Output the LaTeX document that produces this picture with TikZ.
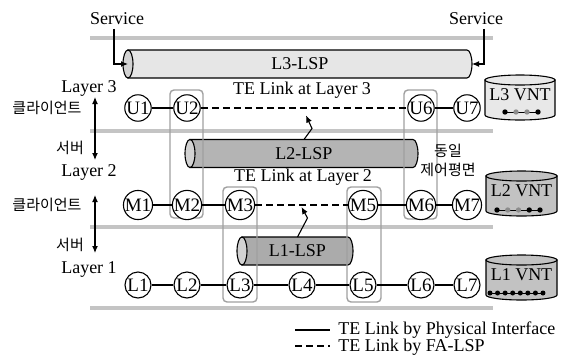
\documentclass[tikz,border=0pt]{standalone}
\usepackage{fontspec}
\setmainfont{Liberation Serif}
\newfontfamily\kofont{Noto Sans CJK KR}
\usetikzlibrary{positioning,arrows.meta}

\definecolor{lspthree}{HTML}{E6E6E6}
\definecolor{lsptwo}{HTML}{B4B4B4}
\definecolor{lspone}{HTML}{ABABAB}
\definecolor{lspend}{HTML}{D2D2D2}
\definecolor{sepgray}{HTML}{C4C4C4}
\definecolor{boxgray}{HTML}{A0A0A0}
\definecolor{dotgray}{HTML}{8C8C8C}
\definecolor{vntlight}{HTML}{E8E8E8}
\definecolor{vntdark}{HTML}{C2C2C2}

% horizontal tube: name, left x, right x, centre y, fill, label
\newcommand{\lsptube}[6]{%
  \filldraw[fill=#5, line width=1.1pt] (#2,{#4-14}) -- ({#3-5},{#4-14})
    arc[start angle=90, end angle=-90, x radius=5pt, y radius=14pt] -- (#2,{#4+14}) -- cycle;
  \filldraw[fill=lspend, line width=1.1pt] (#2,#4) ellipse[x radius=5pt, y radius=14pt];
  \node (#1) at ({(#2+#3)/2},#4) {#6};
  \coordinate (#1w) at (#2,#4);
  \coordinate (#1e) at (#3,#4);
  \coordinate (#1n) at ({(#2+#3)/2},{#4-14});
}
% upright store: name, left x, right x, top y, bottom y, fill, label
\newcommand{\vntcan}[7]{%
  \filldraw[fill=#6, line width=1.1pt] (#2,{#4+5}) -- (#2,{#5-5})
    arc[start angle=180, end angle=360, x radius={(#3-#2)/2*1pt}, y radius=5pt] -- (#3,{#4+5}) -- cycle;
  \filldraw[fill=#6, line width=1.1pt] ({(#2+#3)/2},{#4+5}) ellipse[x radius={(#3-#2)/2*1pt}, y radius=5pt];
  \node (#1) at ({(#2+#3)/2},{#4+20}) {#7};
}

\tikzset{every picture/.style={line width=0.9pt}}

\begin{document}
\begin{tikzpicture}[x=1pt, y=-1pt, font=\fontsize{18}{21}\selectfont,
    nd/.style={circle, draw, fill=white, inner sep=0pt, minimum size=26pt, line width=1.1pt,
        font=\fontsize{19}{21}\selectfont},
    kor/.style={font=\kofont\fontsize{15}{17}\selectfont, inner sep=0pt},
    sepline/.style={line width=4pt, sepgray},
    grp/.style={draw=boxgray, line width=1.4pt, rounded corners=4pt},
    link/.style={line width=1.4pt},
    falink/.style={line width=2.4pt, dash pattern=on 7pt off 4pt},
    tip/.style={-{Latex[length=7pt,width=6pt]}, line width=1.1pt},
    twotip/.style={{Latex[length=7pt,width=6pt]}-{Latex[length=7pt,width=6pt]}, line width=1.1pt}]
\useasboundingbox (0,0) rectangle (566,360);

% layer separators
\foreach \yy in {38,131,227,308}
    \draw[sepline] (90,\yy) -- (493,\yy);

% LSP tubes
\lsptube{l3lsp}{128}{472}{64}{lspthree}{L3-LSP}
\lsptube{l2lsp}{190}{418}{153.5}{lsptwo}{L2-LSP}
\lsptube{l1lsp}{242}{353}{251}{lspone}{L1-LSP}

% same control plane boxes
\draw[grp] (170,90) rectangle (203,218);
\draw[grp] (404,90) rectangle (437,219);
\draw[grp] (223,187) rectangle (257,302);
\draw[grp] (347,187) rectangle (381,302);

% nodes per layer
\foreach \nm/\xx in {1/138,2/187,6/421,7/467}
    \node[nd] (u\nm) at (\xx,108) {U\nm};
\foreach \nm/\xx in {1/138,2/187,3/240,5/363,6/421,7/467}
    \node[nd] (m\nm) at (\xx,205) {M\nm};
\foreach \nm/\xx in {1/138,2/187,3/240,4/302,5/363,6/421,7/467}
    \node[nd] (l\nm) at (\xx,285) {L\nm};

% TE links
\draw[link] (u1) -- (u2);
\draw[falink] (u2) -- (u6);
\draw[link] (u6) -- (u7);
\draw[link] (m1) -- (m2) -- (m3);
\draw[falink] (m3) -- (m5);
\draw[link] (m5) -- (m6) -- (m7);
\foreach \i [evaluate=\i as \j using int(\i+1)] in {1,...,6}
    \draw[link] (l\i) -- (l\j);

\node (te3) at (302,90) {TE Link at Layer 3};
\node (te2) at (303,177) {TE Link at Layer 2};

% FA-LSP arrows
\draw[tip] (l2lspn) -- ++(8,-11) -- ++(-6,-13);
\draw[tip] (l1lspn) -- ++(10,-19) -- ++(-6,-11);

% services
\node (svcl) at (117,19) {Service};
\node (svcr) at (476,19) {Service};
\draw[tip] ([xshift=-3pt]svcl.south) |- (l3lspw);
\draw[tip] ([xshift=8pt]svcr.south) |- (l3lspe);

% left side layer labels
\node (ly3) at (89,88) {Layer 3};
\node (ly2) at (89,172) {Layer 2};
\node (ly1) at (89,269) {Layer 1};
\node[kor] (cl3) at (47,108) {클라이언트};
\node[kor] (sv2) at (70,148) {서버};
\node[kor] (cl2) at (47,205) {클라이언트};
\node[kor] (sv1) at (70,245) {서버};
\coordinate (a3t) at (95,97);
\coordinate (a3b) at (95,160);
\coordinate (a2t) at (95,195);
\coordinate (a2b) at (95,253);
\draw[twotip] (a3t) -- (a3b);
\draw[twotip] (a2t) -- (a2b);

\node[kor] (same1) at (448,151) {동일};
\node[kor] (same2) at (448,170) {제어평면};

% VNT stores
\vntcan{v3}{485}{555}{75}{120}{vntlight}{L3 VNT}
\draw (505,112) -- (538,112);
\foreach \k/\cc in {0/black,1/dotgray,2/dotgray,3/black}
    \fill[\cc] (505+11*\k,112) circle (2.7);

\vntcan{v2}{486}{557}{171}{216}{vntdark}{L2 VNT}
\draw (497,210) -- (540,210);
\foreach \k/\cc in {0/black,1/dotgray,2/dotgray,3/black,4/black}
    \fill[\cc] (497+10.75*\k,210) circle (2.7);

\vntcan{v1}{486}{557}{255}{300}{vntdark}{L1 VNT}
\draw (490,293) -- (543,293);
\foreach \k in {0,...,7}
    \fill (490+7.57*\k,293) circle (2.5);

% legend
\coordinate (lg1a) at (295,330);
\coordinate (lg1b) at (330,330);
\coordinate (lg2a) at (295,346);
\coordinate (lg2b) at (330,346);
\draw[link] (lg1a) -- (lg1b);
\draw[falink] (lg2a) -- (lg2b);
\node[anchor=west, inner sep=0pt] (lgt1) at (338,330) {TE Link by Physical Interface};
\node[anchor=west, inner sep=0pt] (lgt2) at (338,347) {TE Link by FA-LSP};

\end{tikzpicture}
\end{document}
